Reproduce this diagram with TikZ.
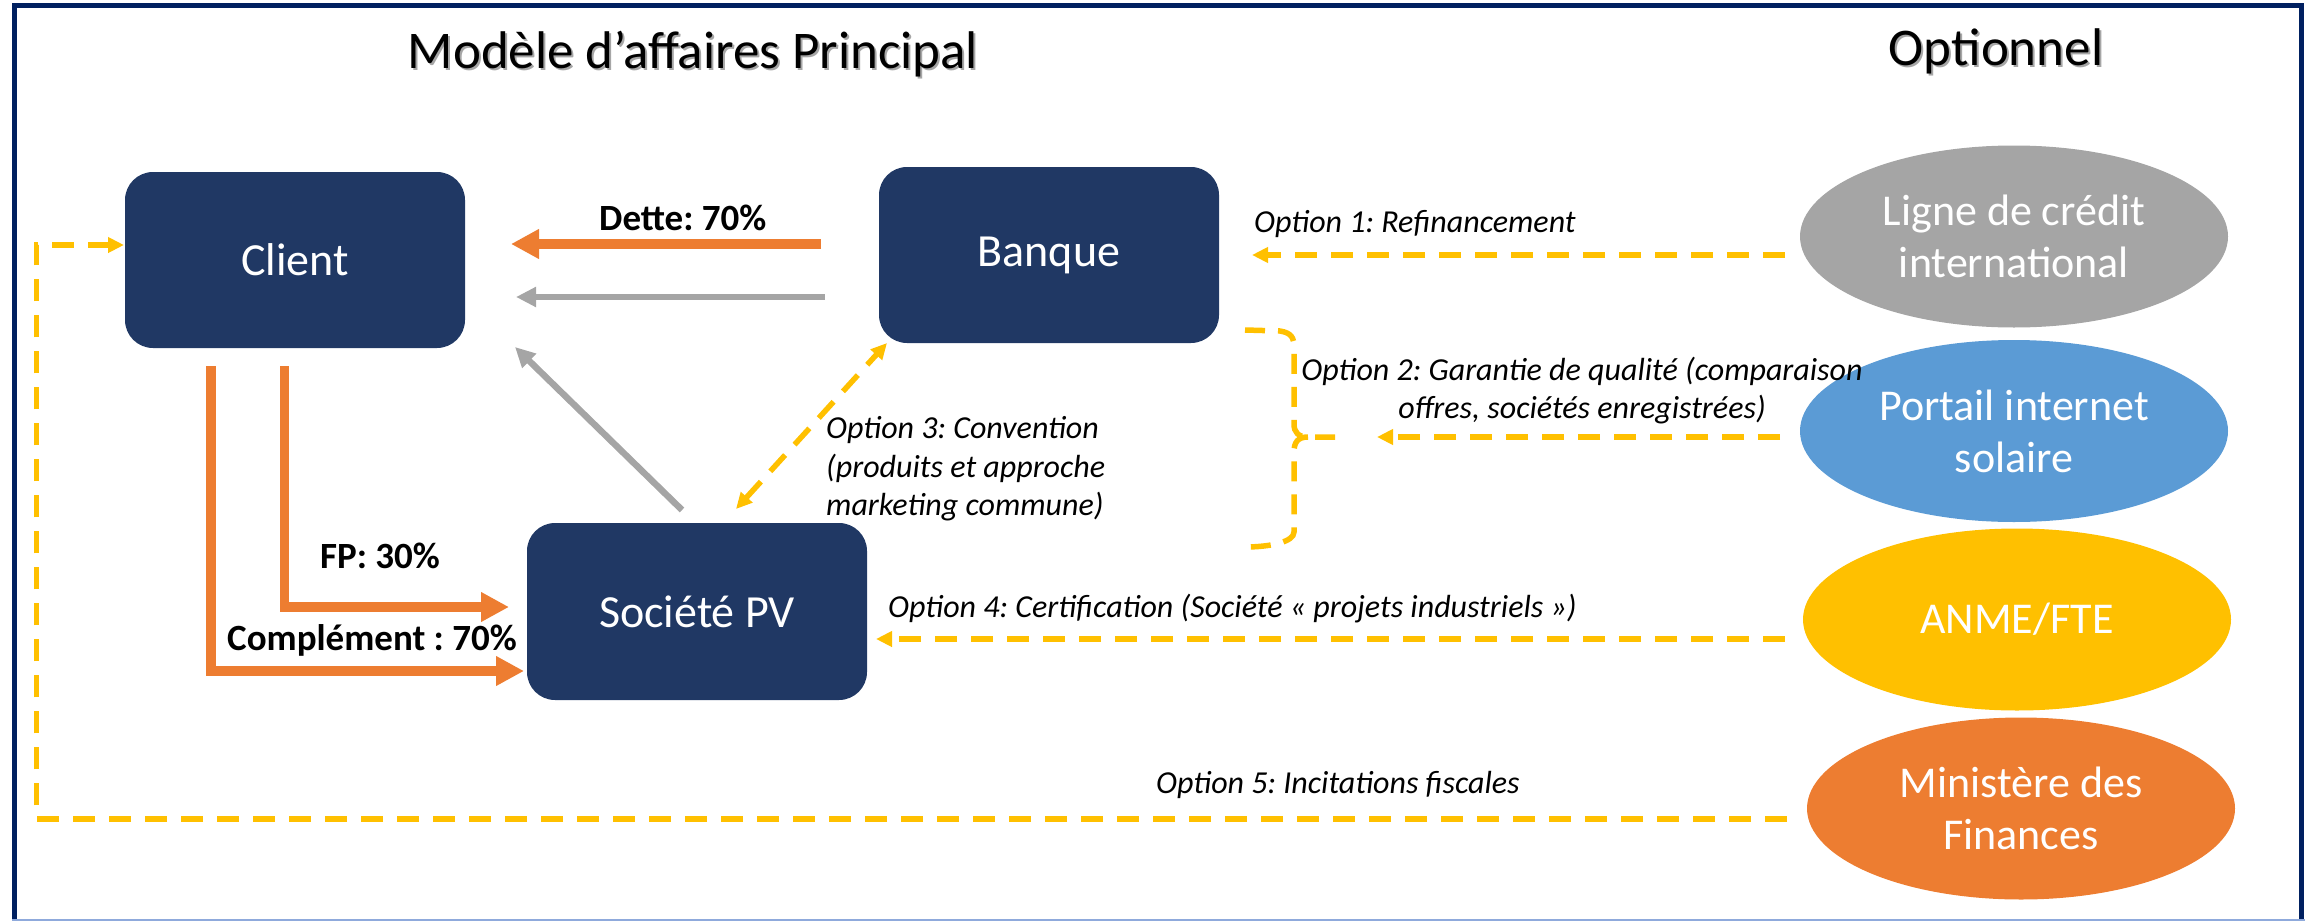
\documentclass[tikz,border=0pt]{standalone}
\usepackage{fontspec}
\setmainfont{Carlito}
\usetikzlibrary{arrows.meta,shapes.geometric}
\definecolor{navy}{RGB}{32,56,100}
\definecolor{framec}{RGB}{0,32,96}
\definecolor{orangec}{RGB}{237,125,49}
\definecolor{grayc}{RGB}{165,165,165}
\definecolor{bluec}{RGB}{91,155,213}
\definecolor{yellowc}{RGB}{255,192,0}
\frenchspacing
\begin{document}
\begin{tikzpicture}[x=1pt,y=-1pt,
 box/.style={fill=navy, rounded corners=28pt, minimum width=340pt, minimum height=176pt, text=white, font=\fontsize{46}{52}\selectfont, inner sep=0pt},
 oval/.style={ellipse, minimum width=428pt, minimum height=182pt, text=white, font=\fontsize{44}{52}\selectfont, inner sep=0pt, align=center},
 ttl/.style={font=\fontsize{53}{60}\selectfont, inner sep=0pt, anchor=base},
 lbl/.style={font=\fontsize{32}{38}\selectfont\itshape, inner sep=0pt, anchor=base west},
 blbl/.style={font=\fontsize{37}{42}\selectfont\bfseries, inner sep=0pt, anchor=base west},
 money/.style={draw=orangec, line width=9.5pt, line join=miter, -{Triangle[length=28pt,width=28pt]}},
 flow/.style={draw=grayc, line width=6.5pt, -{Triangle[length=20pt,width=19pt]}},
 opt/.style={draw=yellowc, line width=5.5pt, dash pattern=on 22pt off 14pt, -{Triangle[length=16pt,width=15pt]}},
]
\useasboundingbox (0,0) rectangle (2305,921);
% frame
\draw[framec, line width=5.5pt] (14.5,919) -- (14.5,5.5) -- (2301.5,5.5) -- (2301.5,919);
\draw[color={rgb,255:red,143;green,170;blue,220}, line width=2pt] (12,920) -- (2305,920);

% titles
\node[ttl, text=black!35] (t1s) at (695,70) {Modèle d’affaires Principal};
\node[ttl] (t1) at (693,68) {Modèle d’affaires Principal};
\node[ttl, text=black!35] (t2s) at (1998,67) {Optionnel};
\node[ttl] (t2) at (1996,65) {Optionnel};

% boxes
\node[box] (client) at (295,260) {Client};
\node[box] (banque) at (1049,255) {Banque};
\node[box, minimum height=177pt] (spv) at (697,611.5) {Société PV};

% ellipses
\node[oval, fill=grayc] (ligne) at (2014,236.5) {Ligne de crédit\\international};
\node[oval, fill=bluec] (portail) at (2014,431) {Portail internet\\solaire};
\node[oval, fill=yellowc] (anme) at (2017,619.5) {ANME/FTE};
\node[oval, fill=orangec] (minist) at (2021,808.5) {Ministère des\\Finances};

% connector end points
\coordinate (dS) at (821,244);
\coordinate (dE) at (511,244);
\coordinate (gS) at (825,297);
\coordinate (gE) at (516,297);
\coordinate (g2S) at (682,510);
\coordinate (g2E) at (515,347);
\coordinate (fS) at (284.5,366);
\coordinate (fC) at (284.5,607);
\coordinate (fE) at (509,607);
\coordinate (cS) at (211,366);
\coordinate (cC) at (211,671);
\coordinate (cE) at (524,671);
\coordinate (o1S) at (1785,255);
\coordinate (o1E) at (1252,255);
\coordinate (o2S) at (1780,437);
\coordinate (o2E) at (1377,437);
\coordinate (o3A) at (736,509);
\coordinate (o3B) at (887,343);
\coordinate (o4S) at (1785,639);
\coordinate (o4E) at (876,639);
\coordinate (o5S) at (1787,819);
\coordinate (o5C) at (36.7,819);
\coordinate (o5D) at (36.7,245);
\coordinate (o5E) at (124,245);

% main flows
\draw[money] (dS) -- (dE);
\draw[flow] (gS) -- (gE);
\draw[flow] (g2S) -- (g2E);
\draw[money] (fS) -- (fC) -- (fE);
\draw[money] (cS) -- (cC) -- (cE);

% optional flows
\draw[opt] (o1S) -- (o1E);
\draw[opt] (o2S) -- (o2E);
\draw[opt, {Triangle[length=16pt,width=15pt]}-{Triangle[length=16pt,width=15pt]}] (o3A) -- (o3B);
\draw[opt] (o4S) -- (o4E);
\draw[opt] (o5S) -- (o5C) -- (o5D) -- (o5E);

% brace
\draw[draw=yellowc, line width=5.5pt, dash pattern=on 20pt off 13pt]
  (1245,330) -- (1280,331) .. controls (1292,333) and (1294,338) .. (1294,348) -- (1294,424)
  .. controls (1294,432) and (1298,437) .. (1308,437) -- (1345,437);
\draw[draw=yellowc, line width=5.5pt, dash pattern=on 20pt off 13pt]
  (1308,437) .. controls (1298,437) and (1294,442) .. (1294,452) -- (1294,532)
  .. controls (1294,542) and (1270,547) .. (1245,547);

% labels
\node[blbl] (ldette) at (599,230) {Dette: 70\%};
\node[blbl] (lfp) at (320,568) {FP: 30\%};
\node[blbl] (lcomp) at (227,650) {Complément : 70\%};
\node[lbl] (l1) at (1254,232) {Option 1: Refinancement};
\node[lbl, anchor=base] (l2a) at (1582,380) {Option 2: Garantie de qualité (comparaison};
\node[lbl, anchor=base] (l2b) at (1582,418) {offres, sociétés enregistrées)};
\node[lbl] (l3a) at (826,438) {Option 3: Convention};
\node[lbl] (l3b) at (826,477) {(produits et approche};
\node[lbl] (l3c) at (826,515) {marketing commune)};
\node[lbl] (l4) at (888,617) {Option 4: Certification (Société « projets industriels »)};
\node[lbl] (l5) at (1156,793) {Option 5: Incitations fiscales};
\end{tikzpicture}
\end{document}
